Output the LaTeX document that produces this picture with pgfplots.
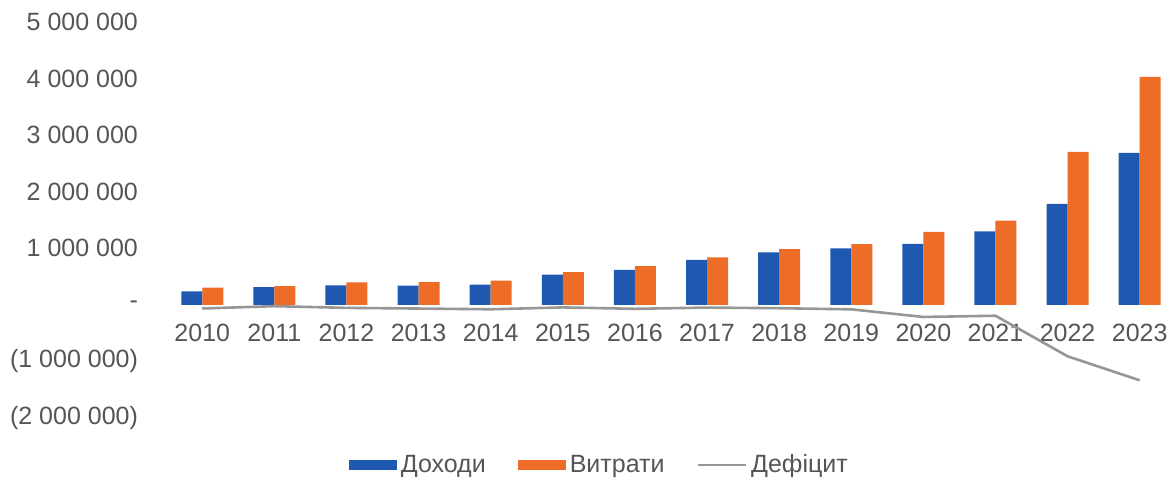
\documentclass[border=0pt]{standalone}
\usepackage{pgfplots}
\pgfplotsset{compat=1.18}
\usepackage{pgfplotstable}
\usepackage{fontspec}
\setmainfont{Liberation Sans}

\definecolor{revblue}{RGB}{30,88,176}
\definecolor{exporange}{RGB}{236,108,40}
\definecolor{defgray}{RGB}{150,150,150}
\definecolor{txtgray}{RGB}{85,85,85}

% year index, revenues, expenditures, deficit (millions)
\pgfplotstableread{
idx rev     exp     def
0   240000  303000  -64000
1   315000  333000  -23000
2   346000  396000  -53000
3   339000  404000  -65000
4   357000  430000  -78000
5   534000  577000  -45000
6   617000  685000  -70000
7   794000  839000  -48000
8   928000  986000  -59000
9   998000  1073000 -79000
10  1076000 1289000 -214000
11  1297000 1490000 -192000
12  1787000 2706000 -909000
13  2687000 4030000 -1334000
}\budget

\begin{document}
\begin{tikzpicture}
\begin{axis}[
  name=ax,
  at={(0,0)}, anchor=south west,
  scale only axis,
  width=507.3pt, height=198pt,
  xmin=-0.6, xmax=13.47,
  ymin=-2000000, ymax=5000000,
  scaled y ticks=false,
  axis x line=middle, axis y line=left,
  axis line style={draw=none,-},
  major tick length=0pt,
  hide obscured x ticks=false, hide obscured y ticks=false,
  xtick={0,1,2,3,4,5,6,7,8,9,10,11,12,13},
  xticklabels={2010,2011,2012,2013,2014,2015,2016,2017,2018,2019,2020,2021,2022,2023},
  ytick={-2000000,-1000000,0,1000000,2000000,3000000,4000000,5000000},
  yticklabels={(2 000 000),(1 000 000),-,1 000 000,2 000 000,3 000 000,4 000 000,5 000 000},
  tick label style={font=\fontsize{12.5}{14}\selectfont, text=txtgray},
  xticklabel style={yshift=-6pt},
  yticklabel style={xshift=-7pt},
  legend style={at={(0.435,-0.119)}, anchor=center, draw=none, fill=none,
    legend columns=-1, font=\fontsize{12.5}{14}\selectfont, text=txtgray,
    /tikz/every even column/.append style={column sep=14pt}},
  clip=false,
]
\addplot[ybar, bar width=10.5pt, bar shift=-5.25pt, fill=revblue, draw=none,
  legend image code/.code={\fill[revblue] (0pt,-2.5pt) rectangle (24pt,2.5pt);}]
  table[x=idx, y=rev] {\budget};
\addplot[ybar, bar width=10.5pt, bar shift=5.25pt, fill=exporange, draw=none,
  legend image code/.code={\fill[exporange] (0pt,-2.5pt) rectangle (24pt,2.5pt);}]
  table[x=idx, y=exp] {\budget};
\addplot[sharp plot, defgray, line width=1.3pt, no marks,
  legend image code/.code={\draw[defgray, line width=1.3pt] (0pt,0pt) -- (24pt,0pt);}]
  table[x=idx, y=def] {\budget};
\legend{Доходи, Витрати, Дефіцит}
\end{axis}
\pgfresetboundingbox
\path[use as bounding box] (ax.south west) ++(-79.5pt,-33pt) rectangle ++(586.5pt,242pt);
\end{tikzpicture}
\end{document}
